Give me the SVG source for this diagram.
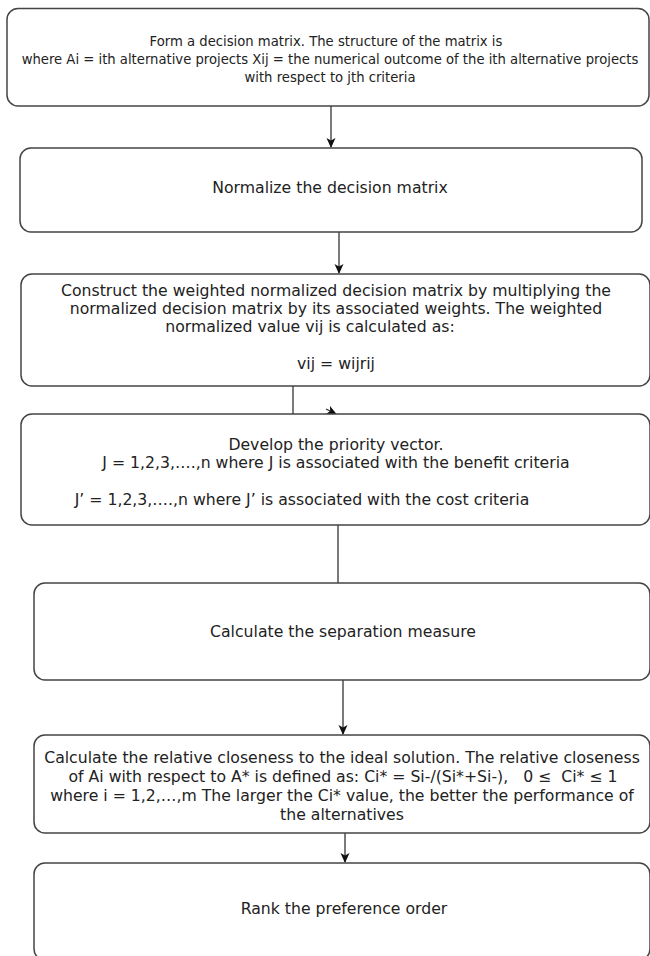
<svg xmlns="http://www.w3.org/2000/svg" width="650" height="956" viewBox="0 0 650 956">
<defs>
<marker id="arr" markerWidth="10" markerHeight="10" viewBox="0 0 10 10" refX="9" refY="5" orient="auto" markerUnits="userSpaceOnUse">
<path d="M0,0.5 L10,5 L0,9.5 L2.5,5 z" fill="#111"/>
</marker>
</defs>
<style>
.box{fill:#fff;stroke:#444;stroke-width:1.5}
.t{font-family:"DejaVu Sans",Verdana,sans-serif;fill:#222;text-anchor:middle;white-space:pre}
.s{font-size:13.2px}
.m{font-size:15.7px}
.c{fill:none;stroke:#333;stroke-width:1.3}
</style>
<rect width="650" height="956" fill="#fff"/>
<g id="connectors">
<path class="c" d="M331,106 L331,147" marker-end="url(#arr)"/>
<path class="c" d="M339,232 L339,273" marker-end="url(#arr)"/>
<path class="c" d="M293,386 L293,414"/>
<path class="c" d="M326,409 L336,414" marker-end="url(#arr)"/>
<path class="c" d="M338,525 L338,583"/>
<path class="c" d="M343,680 L343,734" marker-end="url(#arr)"/>
<path class="c" d="M345,833 L345,862" marker-end="url(#arr)"/>
</g>
<g id="n1">
<rect class="box" x="7" y="8.5" width="642" height="97.5" rx="11"/>
<text class="t s" x="326" y="46">Form a decision matrix. The structure of the matrix is</text>
<text class="t s" x="330" y="64">where Ai = ith alternative projects Xij = the numerical outcome of the ith alternative projects</text>
<text class="t s" x="330" y="82">with respect to jth criteria</text>
</g>
<g id="n2">
<rect class="box" x="20" y="148" width="622" height="84" rx="11"/>
<text class="t m" x="330" y="193">Normalize the decision matrix</text>
</g>
<g id="n3">
<rect class="box" x="21" y="274" width="629" height="112" rx="11"/>
<text class="t m" x="336" y="296">Construct the weighted normalized decision matrix by multiplying the</text>
<text class="t m" x="336" y="314">normalized decision matrix by its associated weights. The weighted</text>
<text class="t m" x="310" y="332">normalized value vij is calculated as:</text>
<text class="t m" x="336" y="369">vij = wijrij</text>
</g>
<g id="n4">
<rect class="box" x="21" y="414" width="629" height="111" rx="11"/>
<text class="t m" x="336" y="450">Develop the priority vector.</text>
<text class="t m" x="336" y="468">J = 1,2,3,….,n where J is associated with the benefit criteria</text>
<text class="t m" x="302" y="505">J’ = 1,2,3,….,n where J’ is associated with the cost criteria</text>
</g>
<g id="n5">
<rect class="box" x="34" y="583" width="616" height="97" rx="11"/>
<text class="t m" x="343" y="637">Calculate the separation measure</text>
</g>
<g id="n6">
<rect class="box" x="34" y="735" width="616" height="98" rx="11"/>
<text class="t m" x="342" y="763">Calculate the relative closeness to the ideal solution. The relative closeness</text>
<text class="t m" x="343" y="782">of Ai with respect to A* is defined as: Ci* = Si-/(Si*+Si-),   0 ≤  Ci* ≤ 1</text>
<text class="t m" x="342" y="801">where i = 1,2,…,m The larger the Ci* value, the better the performance of</text>
<text class="t m" x="342" y="820">the alternatives</text>
</g>
<g id="n7">
<rect class="box" x="34" y="863" width="616" height="97" rx="11"/>
<text class="t m" x="344" y="914">Rank the preference order</text>
</g>
</svg>
